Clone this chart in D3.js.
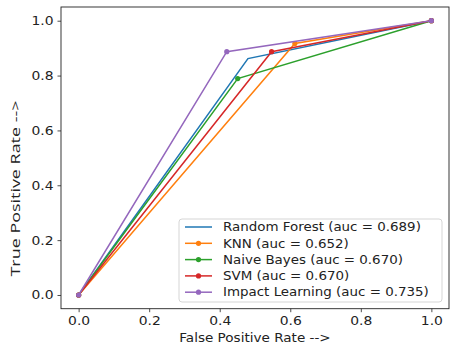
<!DOCTYPE html>
<html lang="en">
<head>
    <meta charset="UTF-8">
    <title>ROC</title>
    <script src="https://d3js.org/d3.v7.min.js"></script>
    <style>
        body { margin: 0; background: #fff; }
        svg text { font-family: "DejaVu Sans", sans-serif; fill: #222; }
    </style>
</head>
<body>
<svg id="chart" width="458" height="351"></svg>
<script>
    // models and their roc points (fpr, tpr)
    const models = ['Random Forest', 'KNN', 'Naive Bayes', 'SVM', 'Impact Learning'];
    const aucs = ['0.689', '0.652', '0.670', '0.670', '0.735'];
    const fpr = [
        [0, 0.48, 1],
        [0, 0.613, 1],
        [0, 0.451, 1],
        [0, 0.547, 1],
        [0, 0.42, 1]
    ];
    const tpr = [
        [0, 0.862, 1],
        [0, 0.917, 1],
        [0, 0.789, 1],
        [0, 0.887, 1],
        [0, 0.887, 1]
    ];
    const hasMarker = [false, true, true, true, true];
    const colors = ['#1f77b4', '#ff7f0e', '#2ca02c', '#d62728', '#9467bd'];
    const ticks = [0, 0.2, 0.4, 0.6, 0.8, 1.0];

    const svg = d3.select('#chart');
    const plotL = 61, plotR = 449, plotT = 7, plotB = 308.7;
    const stretch = 1.13; // text in the picture is a bit wide

    const x = d3.scaleLinear().domain([-0.05, 1.05]).range([plotL, plotR]);
    const y = d3.scaleLinear().domain([-0.05, 1.05]).range([plotB, plotT]);

    // axes
    const xAxis = svg.append('g')
        .attr('transform', `translate(0,${plotB})`)
        .call(d3.axisBottom(x).tickValues(ticks).tickFormat(d3.format('.1f')).tickSizeOuter(0).tickSize(3.5).tickPadding(4));
    const yAxis = svg.append('g')
        .attr('transform', `translate(${plotL},0)`)
        .call(d3.axisLeft(y).tickValues(ticks).tickFormat(d3.format('.1f')).tickSizeOuter(0).tickSize(3.5).tickPadding(4));
    [xAxis, yAxis].forEach(a => {
        a.select('.domain').remove();
        a.selectAll('text').style('font-size', '12.3px').style('font-family', '"DejaVu Sans", sans-serif').attr('fill', '#222');
        a.selectAll('line').attr('stroke', '#222').attr('stroke-width', 0.8);
    });
    xAxis.selectAll('text').attr('transform', `scale(${stretch},1)`).attr('x', 0);
    yAxis.selectAll('text').attr('transform', `translate(-7.5,0) scale(${stretch},1)`).attr('x', 0);

    // lines
    const line = d3.line().x(d => x(d[0])).y(d => y(d[1]));
    models.forEach((m, i) => {
        const pts = fpr[i].map((f, j) => [f, tpr[i][j]]);
        svg.append('path')
            .attr('d', line(pts))
            .attr('fill', 'none')
            .attr('stroke', colors[i])
            .attr('stroke-width', 1.5);
        if (hasMarker[i]) {
            svg.selectAll(null).data(pts).enter().append('circle')
                .attr('cx', d => x(d[0]))
                .attr('cy', d => y(d[1]))
                .attr('r', 2.6)
                .attr('fill', colors[i]);
        }
    });

    // frame
    svg.append('rect')
        .attr('x', plotL).attr('y', plotT)
        .attr('width', plotR - plotL).attr('height', plotB - plotT)
        .attr('fill', 'none').attr('stroke', '#222').attr('stroke-width', 0.9);

    // labels
    svg.append('text')
        .attr('transform', `translate(255,342) scale(${stretch},1)`)
        .attr('text-anchor', 'middle')
        .style('font-size', '12px')
        .text('False Positive Rate -->');
    svg.append('text')
        .attr('transform', 'translate(19.5,188.5) rotate(-90)')
        .attr('text-anchor', 'middle')
        .attr('textLength', 176)
        .attr('lengthAdjust', 'spacingAndGlyphs')
        .style('font-family', '"Open Sans", sans-serif')
        .style('font-size', '13.5px')
        .text('True Positive Rate -->');

    // legend
    const lg = svg.append('g');
    lg.append('rect')
        .attr('x', 179).attr('y', 219).attr('width', 263).attr('height', 83)
        .attr('rx', 3)
        .attr('fill', 'rgba(255,255,255,0.8)')
        .attr('stroke', '#d0d0d0').attr('stroke-width', 0.9);
    models.forEach((m, i) => {
        const ry = 227 + i * 16.3;
        lg.append('line')
            .attr('x1', 185).attr('x2', 212).attr('y1', ry).attr('y2', ry)
            .attr('stroke', colors[i]).attr('stroke-width', 1.5);
        if (hasMarker[i]) {
            lg.append('circle').attr('cx', 198.5).attr('cy', ry).attr('r', 2.6).attr('fill', colors[i]);
        }
        lg.append('text')
            .attr('transform', `translate(223,${ry}) scale(1.1,1)`)
            .attr('dy', '0.35em')
            .style('font-size', '12.2px')
            .text(`${m} (auc = ${aucs[i]})`);
    });
</script>
</body>
</html>
